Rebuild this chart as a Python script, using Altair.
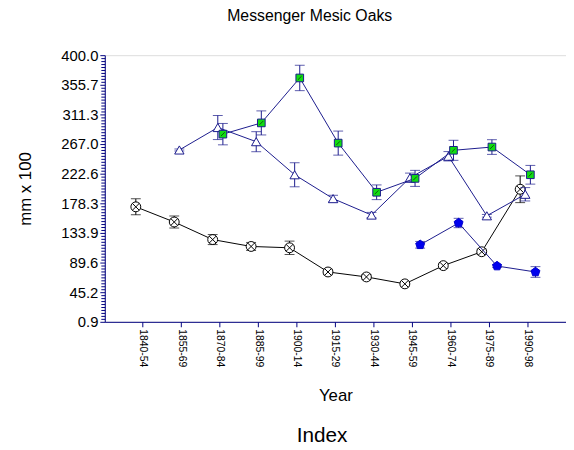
import altair as alt
import pandas as pd
import numpy as np

periods = ["1840-54", "1855-69", "1870-84", "1885-99", "1900-14", "1915-29",
           "1930-44", "1945-59", "1960-74", "1975-89", "1990-98"]

circle_vals = [173.0, 150.3, 124.0, 113.7, 111.7, 75.5, 68.1, 57.7, 85.0, 105.8, 199.3]
circle_err = [12, 9, 7.5, 6, 10, 4, 3.5, 3, 3.5, 4, 20]

tri_vals = [None, 258.1, 291.7, 270.5, 221.0, 185.3, 160.7, 216.5, 248.7, 159.6, 191.8]
tri_err = [None, 1.5, 18, 15, 18, 5, 4, 7, 7, 2, 10]

sq_vals = [None, None, 281.8, 298.6, 365.9, 268.4, 194.8, 215.6, 257.6, 262.5, 221.0]
sq_err = [None, None, 16, 18, 19, 18, 11, 12, 15, 11, 14]

pent_vals = [None, None, None, None, None, None, None, 116.2, 148.8, 84.4, 75.5]
pent_err = [None, None, None, None, None, None, None, 5, 7, 2, 8]

series_order = ["circle", "triangle", "square", "pentagon"]

y_min, y_max = 0.9, 400.0
minor_ticks = [round(v, 4) for v in np.linspace(y_min, y_max, 91)]

rows = []
for name, vals, errs in [("circle", circle_vals, circle_err),
                         ("triangle", tri_vals, tri_err),
                         ("square", sq_vals, sq_err),
                         ("pentagon", pent_vals, pent_err)]:
    for p, v, e in zip(periods, vals, errs):
        if v is None:
            continue
        rows.append({"period": p, "series": name, "value": v, "lo": v - e, "hi": v + e})
df = pd.DataFrame(rows)

FONT = "Liberation Sans"
NAVY = "#1a1a8c"
AXIS_BLUE = "#000080"

W, H = 467, 270
band = W / 12.0

step = (y_max - y_min) / 9
major_test = f"abs((datum.value - {y_min}) / {step} - round((datum.value - {y_min}) / {step})) < 0.01"
label_expr = f"{major_test} ? format(datum.value, '.1f') : ''"

y_axis = alt.Axis(
    values=minor_ticks, labelExpr=label_expr, labelOverlap=False,
    grid=False, domainColor=AXIS_BLUE, tickColor=AXIS_BLUE,
    tickSize={"condition": {"test": major_test, "value": 5}, "value": 4},
    labelPadding=2, labelFontSize=15, labelFont=FONT, labelColor="black",
    title="mm x 100", titleFont=FONT, titleFontSize=17, titleFontWeight="normal",
    titleColor="black", titlePadding=27,
)
y_scale = alt.Scale(domain=[y_min, y_max], nice=False, zero=False)

x_enc = alt.X(
    "period:N", sort=periods,
    scale=alt.Scale(type="band", domain=periods, paddingInner=0, paddingOuter=0.5),
    axis=alt.Axis(
        title="Year", titleFont=FONT, titleFontSize=17, titleFontWeight="normal",
        titleColor="black", titlePadding=21,
        labelAngle=90, labelFontSize=10.5, labelFont=FONT, labelColor="black",
        labelPadding=2, tickSize=5, tickColor=AXIS_BLUE, domainColor=AXIS_BLUE,
        grid=False, labelAlign="left", labelBaseline="middle",
    ),
)
xo_enc = alt.XOffset(
    "series:N", sort=series_order,
    scale=alt.Scale(type="point", domain=series_order,
                    range=[band / 2 - 7.5, band / 2 + 8], padding=0),
)

X_PATH = "M-0.7,-0.7L0.7,0.7M-0.7,0.7L0.7,-0.7"
PENT_PATH = "M0,-1L0.951,-0.309L0.588,0.809L-0.588,0.809L-0.951,-0.309Z"
SLASH_PATH = "M-0.6,0.6L0.6,-0.6"


def series_layers(name, line_color, err_color, point_marks):
    base = alt.Chart(df).transform_filter(alt.datum.series == name).encode(
        x=x_enc, xOffset=xo_enc
    )
    line = base.mark_line(color=line_color, strokeWidth=1).encode(
        y=alt.Y("value:Q", scale=y_scale, axis=y_axis)
    )
    rule = base.mark_rule(color=err_color, strokeWidth=1).encode(
        y=alt.Y("lo:Q", scale=y_scale, axis=y_axis), y2="hi:Q"
    )
    cap_lo = base.mark_tick(color=err_color, size=10, thickness=1, orient="horizontal").encode(
        y=alt.Y("lo:Q", scale=y_scale, axis=y_axis)
    )
    cap_hi = base.mark_tick(color=err_color, size=10, thickness=1, orient="horizontal").encode(
        y=alt.Y("hi:Q", scale=y_scale, axis=y_axis)
    )
    pts = [
        base.mark_point(**kw).encode(y=alt.Y("value:Q", scale=y_scale, axis=y_axis))
        for kw in point_marks
    ]
    return [line, rule, cap_lo, cap_hi] + pts


layers = []
layers += series_layers("circle", "black", "black", [
    dict(shape="circle", size=100, filled=True, fill="white", stroke="black", strokeWidth=1, opacity=1),
    dict(shape=X_PATH, size=100, filled=False, stroke="black", strokeWidth=1, opacity=1),
])
layers += series_layers("triangle", NAVY, NAVY, [
    dict(shape="triangle-up", size=90, filled=True, fill="white", stroke=NAVY, strokeWidth=1, opacity=1),
])
layers += series_layers("square", NAVY, NAVY, [
    dict(shape="square", size=60, filled=True, fill="#11dd11", stroke=NAVY, strokeWidth=1, opacity=1),
    dict(shape=SLASH_PATH, size=40, filled=False, stroke="#115511", strokeWidth=1, opacity=1),
])
layers += series_layers("pentagon", NAVY, NAVY, [
    dict(shape=PENT_PATH, size=90, filled=True, fill="#0000ee", stroke="#0000cc", strokeWidth=1, opacity=1),
])

index_label = alt.Chart(pd.DataFrame({"label": ["Index"]})).mark_text(
    font=FONT, fontSize=21, align="center", baseline="alphabetic", color="black"
).encode(x=alt.value(220), y=alt.value(392), text="label:N")

chart = alt.layer(*layers, index_label).properties(
    width=W, height=H,
    padding={"left": 98, "top": 45, "right": 0, "bottom": 125},
    autosize=alt.AutoSizeParams(type="none"),
    title=alt.TitleParams(
        "Messenger Mesic Oaks", font=FONT, fontSize=16, fontWeight="normal",
        color="black", anchor="middle", dx=-26, offset=25,
    ),
).configure_view(stroke=None).configure(background="white")

chart.save("out.html", embed_options={"renderer": "svg", "actions": False})
